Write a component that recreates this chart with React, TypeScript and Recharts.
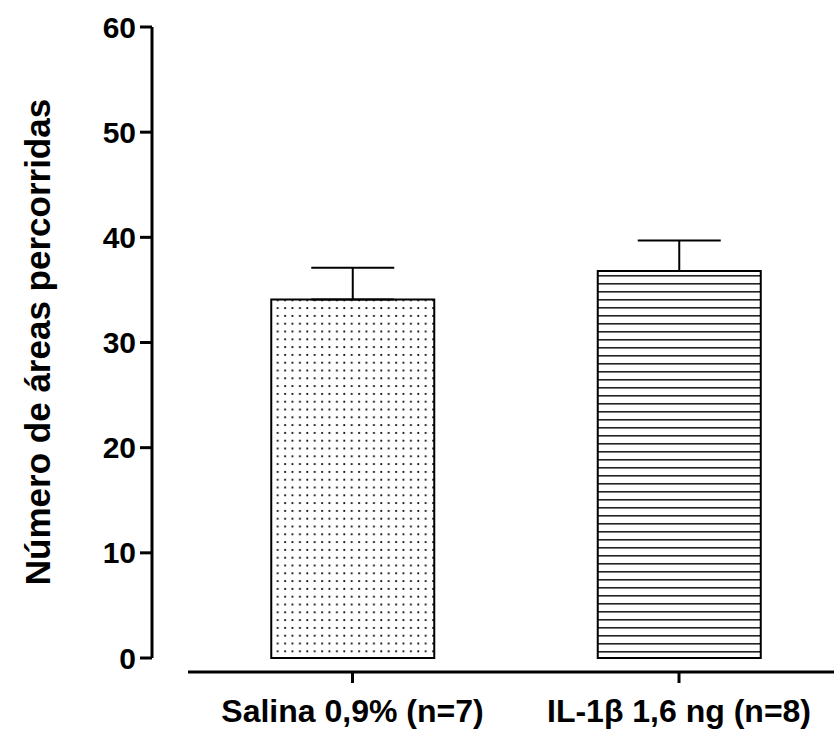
import React from "react";
import {
  BarChart,
  Bar,
  Cell,
  XAxis,
  YAxis,
  ErrorBar,
  ReferenceLine,
} from "recharts";

// valores (média ± EPM)
const categories = ["Salina 0,9% (n=7)", "IL-1β 1,6 ng (n=8)"];
const means = [34.1, 36.8];
const sems = [3.0, 2.9];
const yTicks = [0, 10, 20, 30, 40, 50, 60];
const fills = ["url(#dots)", "url(#hlines)"];

const data = categories.map((name, i) => ({
  pos: i + 1,
  name,
  mean: means[i],
  err: [0, sems[i]],
}));

const FONT = "'Liberation Sans', Arial, Helvetica, sans-serif";

// domínios escolhidos para reproduzir a disposição dos eixos do original
const X_DOMAIN: [number, number] = [0.3859, 2.4747];
const X_LINE_START = 0.4962;
const Y_DOMAIN: [number, number] = [-1.331, 60];

const YLabel = () => (
  <text
    x={37}
    y={342}
    transform="rotate(-90 37 342)"
    textAnchor="middle"
    dominantBaseline="central"
    fontFamily={FONT}
    fontWeight="bold"
    fontSize={35}
    fill="#000"
  >
    Número de áreas percorridas
  </text>
);

const App: React.FC = () => {
  return (
    <div style={{ position: "absolute", left: 0, top: 0, background: "#fff" }}>
      <svg width={0} height={0} style={{ position: "absolute" }}>
        <defs>
          <pattern id="dots" patternUnits="userSpaceOnUse" width={7.4} height={7.8}>
            <rect x={3} y={3} width={1.8} height={1.8} fill="#000" />
          </pattern>
          <pattern id="hlines" patternUnits="userSpaceOnUse" width={8} height={8}>
            <rect x={0} y={3} width={8} height={1.6} fill="#222" />
          </pattern>
        </defs>
      </svg>
      <BarChart
        width={834}
        height={741}
        data={data}
        margin={{ top: 27, right: 0, left: 0, bottom: 0 }}
      >
        <XAxis
          type="number"
          dataKey="pos"
          domain={X_DOMAIN}
          allowDataOverflow
          ticks={[1, 2]}
          tickFormatter={(v: number) => categories[v - 1]}
          axisLine={false}
          tickLine={{ stroke: "#000", strokeWidth: 3 }}
          tickSize={11}
          tickMargin={16}
          height={69}
          interval={0}
          tick={{ fontFamily: FONT, fontWeight: "bold", fontSize: 32, fill: "#000" }}
        />
        <YAxis
          type="number"
          domain={Y_DOMAIN}
          allowDataOverflow
          ticks={yTicks}
          interval={0}
          axisLine={false}
          tickLine={{ stroke: "#000", strokeWidth: 3 }}
          tickSize={12}
          tickMargin={4}
          width={152}
          tick={{ fontFamily: FONT, fontWeight: "bold", fontSize: 30, fill: "#000" }}
          label={<YLabel />}
        />
        <ReferenceLine
          segment={[
            { x: X_DOMAIN[0], y: 0 },
            { x: X_DOMAIN[0], y: 60 },
          ]}
          stroke="#000"
          strokeWidth={3}
          ifOverflow="visible"
        />
        <ReferenceLine
          segment={[
            { x: X_LINE_START, y: Y_DOMAIN[0] },
            { x: X_DOMAIN[1], y: Y_DOMAIN[0] },
          ]}
          stroke="#000"
          strokeWidth={3}
          ifOverflow="visible"
        />
        <Bar
          dataKey="mean"
          barSize={163}
          stroke="#000"
          strokeWidth={2}
          isAnimationActive={false}
        >
          {data.map((d, i) => (
            <Cell key={d.name} fill={fills[i]} />
          ))}
          <ErrorBar
            dataKey="err"
            direction="y"
            width={41.5}
            stroke="#000"
            strokeWidth={2}
          />
        </Bar>
      </BarChart>
    </div>
  );
};

export default App;
